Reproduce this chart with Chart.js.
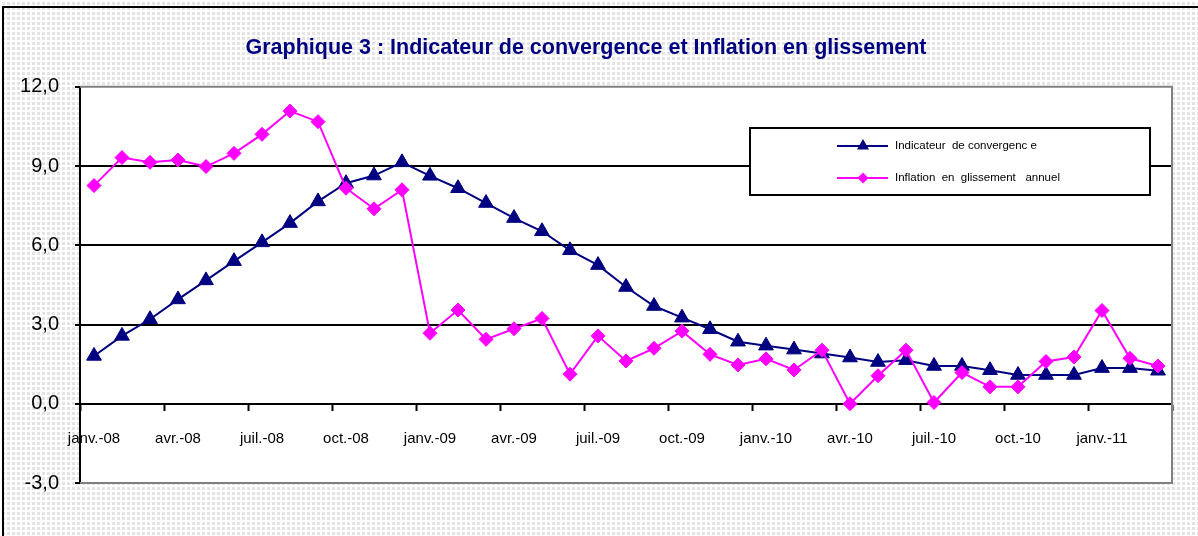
<!DOCTYPE html>
<html>
<head>
<meta charset="utf-8">
<script src="https://cdn.jsdelivr.net/npm/chart.js@4.4.0/dist/chart.umd.min.js"></script>
<style>
html,body{margin:0;padding:0;}
body{width:1198px;height:536px;overflow:hidden;background-color:#fff;
 background-image:linear-gradient(#fff 50%, rgba(255,255,255,0) 50%),linear-gradient(90deg,#fff 50%,#e4e4e4 50%);
 background-size:5px 5px;}
#frame{position:absolute;left:2px;top:6px;width:1300px;height:600px;border-left:2px solid #000;border-top:2px solid #000;}
#wrap{position:absolute;left:0;top:0;width:1198px;height:536px;}
</style>
</head>
<body>
<div id="frame"></div>
<div id="wrap"><canvas id="c" width="1198" height="536"></canvas></div>
<script>
const categories = [
 'janv.-08','févr.-08','mars-08','avr.-08','mai-08','juin-08','juil.-08','août-08','sept.-08','oct.-08','nov.-08','déc.-08',
 'janv.-09','févr.-09','mars-09','avr.-09','mai-09','juin-09','juil.-09','août-09','sept.-09','oct.-09','nov.-09','déc.-09',
 'janv.-10','févr.-10','mars-10','avr.-10','mai-10','juin-10','juil.-10','août-10','sept.-10','oct.-10','nov.-10','déc.-10',
 'janv.-11','févr.-11','mars-11'
];
const indicateurConvergence = [
 1.81,2.57,3.20,3.95,4.67,5.40,6.11,6.84,7.66,8.35,8.64,9.14,
 8.63,8.16,7.60,7.03,6.53,5.81,5.25,4.42,3.70,3.26,2.82,2.35,
 2.20,2.05,1.90,1.75,1.58,1.65,1.43,1.43,1.27,1.09,1.09,1.09,
 1.35,1.35,1.25
];
const inflationGlissement = [
 8.26,9.32,9.14,9.23,8.98,9.48,10.20,11.08,10.68,8.16,7.38,8.10,
 2.67,3.55,2.44,2.84,3.23,1.12,2.57,1.62,2.10,2.75,1.87,1.47,
 1.70,1.28,2.03,0.00,1.06,2.03,0.05,1.18,0.64,0.64,1.60,1.77,
 3.53,1.72,1.43
];
const yTickValues = [-3,0,3,6,9,12];
const seriesLabels = ['Indicateur  de convergenc e','Inflation  en  glissement   annuel'];
const titleText = 'Graphique 3 : Indicateur de convergence et Inflation en glissement';

const plotArea = {
  id:'plotArea',
  beforeDraw(chart){
    const {ctx, chartArea:a} = chart;
    ctx.save();
    ctx.fillStyle = '#fff';
    ctx.fillRect(a.left, a.top, a.width, a.height);
    ctx.restore();
  },
  beforeDatasetsDraw(chart){
    const {ctx, chartArea:a} = chart;
    ctx.save();
    ctx.strokeStyle = '#808080';
    ctx.lineWidth = 2;
    ctx.beginPath();
    ctx.moveTo(a.left, a.top); ctx.lineTo(a.right, a.top); ctx.lineTo(a.right, a.bottom); ctx.lineTo(a.left, a.bottom);
    ctx.stroke();
    ctx.restore();
  }
};

const boxLegend = {
  id:'boxLegend',
  afterDraw(chart){
    const {ctx} = chart;
    const x0 = 750, y0 = 128, w = 400, h = 67;
    ctx.save();
    ctx.fillStyle = '#fff';
    ctx.fillRect(x0, y0, w, h);
    ctx.strokeStyle = '#000';
    ctx.lineWidth = 2;
    ctx.strokeRect(x0, y0, w, h);
    chart.data.datasets.forEach((ds, i) => {
      const yy = y0 + 18 + i * 32;
      ctx.strokeStyle = ds.borderColor;
      ctx.lineWidth = 2;
      ctx.beginPath(); ctx.moveTo(837, yy); ctx.lineTo(888, yy); ctx.stroke();
      Chart.helpers.drawPoint(ctx, {pointStyle: ds.pointStyle, radius: ds.pointStyle === 'triangle' ? 5 : 4, borderWidth: 1}, 863, yy);
      ctx.fillStyle = ds.borderColor;
      ctx.fill();
      ctx.fillStyle = '#000';
      ctx.font = '11.5px "Liberation Sans", Arial, sans-serif';
      ctx.textBaseline = 'middle';
      ctx.textAlign = 'left';
      ctx.fillText(ds.label, 895, yy);
    });
    ctx.restore();
  }
};

new Chart(document.getElementById('c'), {
  type: 'line',
  data: {
    labels: categories,
    datasets: [
      {
        label: seriesLabels[0], data: indicateurConvergence, order: 2,
        borderColor: '#000080', backgroundColor: '#000080', borderWidth: 2,
        pointStyle: 'triangle', pointRadius: 8.5, pointBorderWidth: 1,
        pointBackgroundColor: '#000080', pointBorderColor: '#000080', tension: 0
      },
      {
        label: seriesLabels[1], data: inflationGlissement, order: 1,
        borderColor: '#FF00FF', backgroundColor: '#FF00FF', borderWidth: 2,
        pointStyle: 'rectRot', pointRadius: 7, pointBorderWidth: 1,
        pointBackgroundColor: '#FF00FF', pointBorderColor: '#FF00FF', tension: 0
      }
    ]
  },
  options: {
    responsive: false,
    animation: false,
    layout: { padding: { left: 0, right: 26, top: 0, bottom: 53 } },
    plugins: {
      legend: { display: false },
      tooltip: { enabled: false },
      title: {
        display: true, text: titleText, color: '#000080',
        font: { family: '"Liberation Sans", Arial, sans-serif', size: 21.5, weight: 'bold' },
        padding: { top: 35, bottom: 26 }
      }
    },
    scales: {
      x: {
        type: 'category', position: { y: 0 }, offset: true,
        grid: {
          offset: true, drawOnChartArea: false, drawTicks: true, tickLength: 6, tickWidth: 2,
          tickColor: c => (c.index === undefined || c.index % 3 === 0) ? '#000' : 'rgba(0,0,0,0)'
        },
        border: { display: true, color: '#000', width: 2 },
        ticks: {
          autoSkip: false, maxRotation: 0, minRotation: 0, padding: 20, color: '#000',
          font: { family: '"Liberation Sans", Arial, sans-serif', size: 15 },
          callback: (v, i) => i % 3 === 0 ? categories[i] : ''
        }
      },
      y: {
        min: -3, max: 12,
        afterBuildTicks: s => { s.ticks = yTickValues.map(v => ({ value: v })); },
        afterFit: s => { s.width = 80; },
        grid: {
          color: c => (c.tick && (c.tick.value === 12 || c.tick.value === -3)) ? 'rgba(0,0,0,0)' : '#000',
          lineWidth: 2, tickLength: 5, tickColor: '#000', tickWidth: 2
        },
        border: { display: true, color: '#000', width: 2 },
        ticks: {
          padding: 16, color: '#000',
          font: { family: '"Liberation Sans", Arial, sans-serif', size: 20 },
          callback: v => v.toFixed(1).replace('.', ',')
        }
      }
    }
  },
  plugins: [plotArea, boxLegend]
});
</script>
</body>
</html>
